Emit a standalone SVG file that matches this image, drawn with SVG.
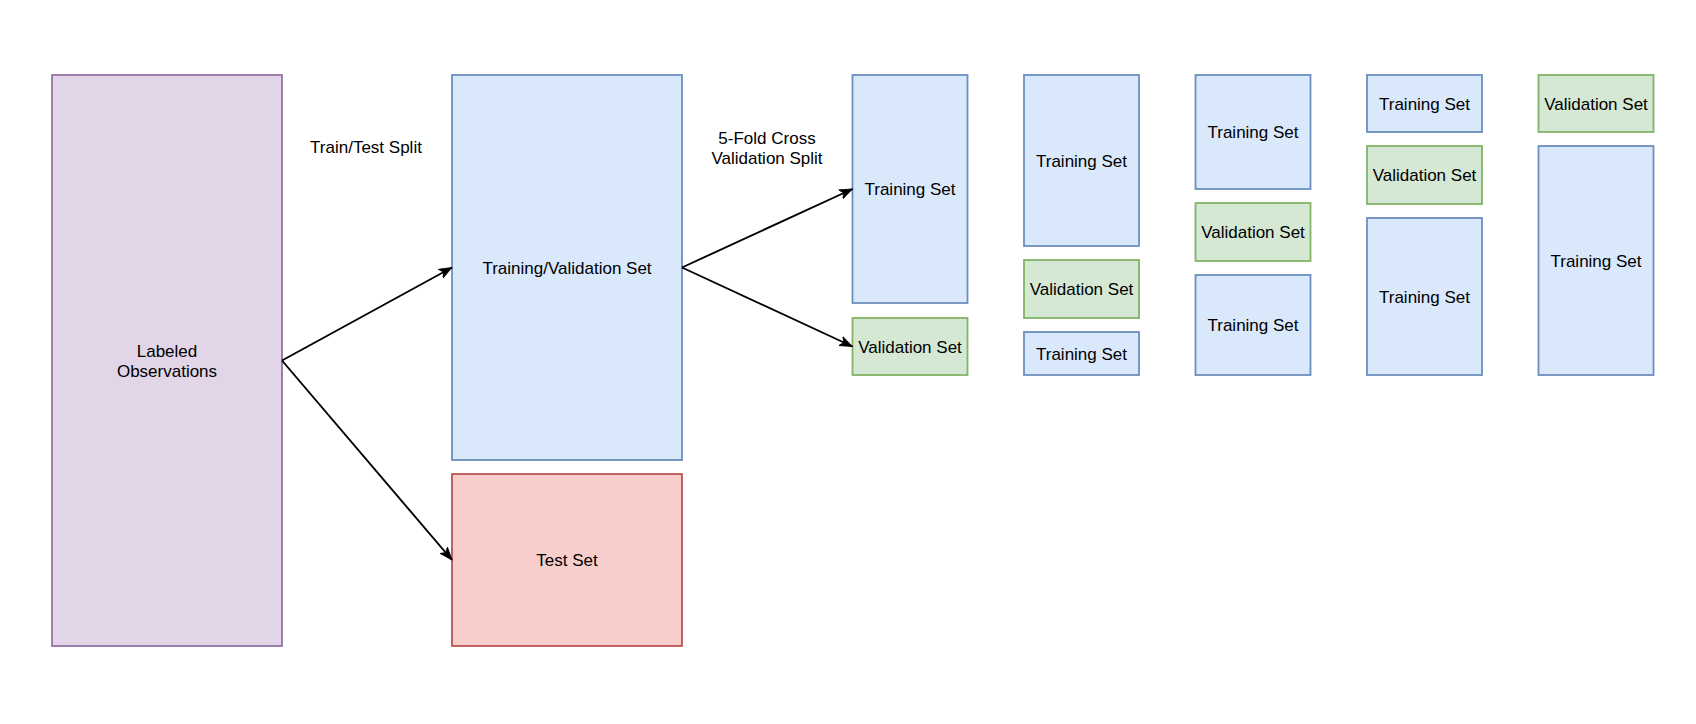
<svg xmlns="http://www.w3.org/2000/svg" width="1696" height="724" viewBox="0 0 1696 724">
<style>
  .lbl{font-family:"Liberation Sans",Arial,Helvetica,sans-serif;font-size:17px;fill:#000;text-anchor:middle}
  .purple{fill:#e1d5e7;stroke:#9673a6;stroke-width:1.8}
  .blue{fill:#dae8fc;stroke:#6c8ebf;stroke-width:1.8}
  .green{fill:#d5e8d4;stroke:#82b366;stroke-width:1.8}
  .red{fill:#f8cecc;stroke:#b85450;stroke-width:1.8}
  .edge{fill:none;stroke:#000;stroke-width:1.9}
</style>
<defs>
  <marker id="arrow" markerUnits="userSpaceOnUse" markerWidth="16" markerHeight="14" refX="13" refY="7" orient="auto" viewBox="0 0 16 14">
    <path d="M0,2 L13,7 L0,12 L3.5,7 Z" fill="#000" stroke="#000" stroke-width="0.8"/>
  </marker>
</defs>
<rect width="1696" height="724" fill="#ffffff"/>

<g id="labeled-observations">
  <rect class="purple" x="52" y="75" width="230" height="571"/>
  <text class="lbl" x="167" y="357">Labeled</text>
  <text class="lbl" x="167" y="377">Observations</text>
</g>
<g id="train-val-set">
  <rect class="blue" x="452" y="75" width="230" height="385"/>
  <text class="lbl" x="567" y="273.5">Training/Validation Set</text>
</g>
<g id="test-set">
  <rect class="red" x="452" y="474" width="230" height="172"/>
  <text class="lbl" x="567" y="566">Test Set</text>
</g>
<g id="label-train-test-split">
  <text class="lbl" x="366" y="153">Train/Test Split</text>
</g>
<g id="label-5fold">
  <text class="lbl" x="767" y="144">5-Fold Cross</text>
  <text class="lbl" x="767" y="164">Validation Split</text>
</g>

<g id="fold1">
  <rect class="blue" x="852.5" y="75" width="115" height="228"/>
  <text class="lbl" x="910" y="195">Training Set</text>
  <rect class="green" x="852.5" y="318" width="115" height="57"/>
  <text class="lbl" x="910" y="352.5">Validation Set</text>
</g>
<g id="fold2">
  <rect class="blue" x="1024" y="75" width="115" height="171"/>
  <text class="lbl" x="1081.5" y="166.5">Training Set</text>
  <rect class="green" x="1024" y="260" width="115" height="58"/>
  <text class="lbl" x="1081.5" y="295">Validation Set</text>
  <rect class="blue" x="1024" y="332" width="115" height="43"/>
  <text class="lbl" x="1081.5" y="359.5">Training Set</text>
</g>
<g id="fold3">
  <rect class="blue" x="1195.5" y="75" width="115" height="114"/>
  <text class="lbl" x="1253" y="138">Training Set</text>
  <rect class="green" x="1195.5" y="203" width="115" height="58"/>
  <text class="lbl" x="1253" y="238">Validation Set</text>
  <rect class="blue" x="1195.5" y="275" width="115" height="100"/>
  <text class="lbl" x="1253" y="331">Training Set</text>
</g>
<g id="fold4">
  <rect class="blue" x="1367" y="75" width="115" height="57"/>
  <text class="lbl" x="1424.5" y="109.5">Training Set</text>
  <rect class="green" x="1367" y="146" width="115" height="58"/>
  <text class="lbl" x="1424.5" y="181">Validation Set</text>
  <rect class="blue" x="1367" y="218" width="115" height="157"/>
  <text class="lbl" x="1424.5" y="302.5">Training Set</text>
</g>
<g id="fold5">
  <rect class="green" x="1538.5" y="75" width="115" height="57"/>
  <text class="lbl" x="1596" y="109.5">Validation Set</text>
  <rect class="blue" x="1538.5" y="146" width="115" height="229"/>
  <text class="lbl" x="1596" y="266.5">Training Set</text>
</g>

<g id="connectors">
  <line class="edge" x1="282" y1="360.5" x2="452" y2="267.5" marker-end="url(#arrow)"/>
  <line class="edge" x1="282" y1="360.5" x2="452" y2="560" marker-end="url(#arrow)"/>
  <line class="edge" x1="682" y1="267.5" x2="852.5" y2="189" marker-end="url(#arrow)"/>
  <line class="edge" x1="682" y1="267.5" x2="852.5" y2="346.5" marker-end="url(#arrow)"/>
</g>
</svg>
